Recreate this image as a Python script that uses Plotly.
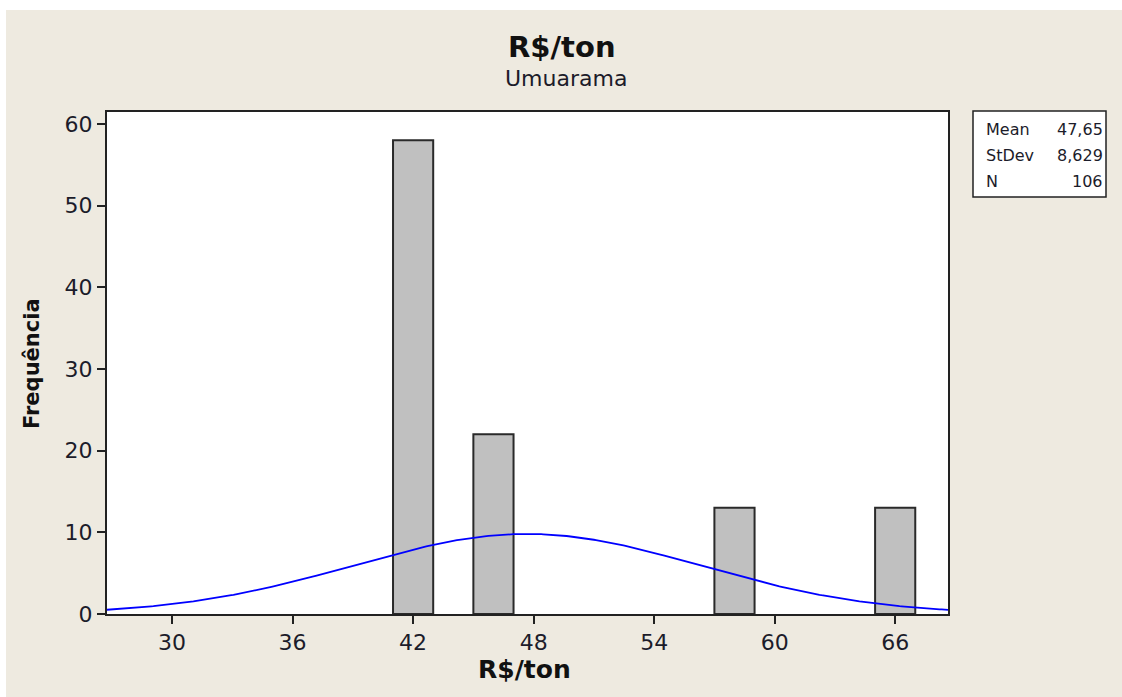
import numpy as np
import plotly.graph_objects as go

# Histogram of R$/ton prices, Umuarama
bin_centers = [42, 46, 58, 66]
counts = [58, 22, 13, 13]
bin_width = 2

mean_val = 47.65
stdev_val = 8.629
n_obs = 106

x_ticks = [30, 36, 42, 48, 54, 60, 66]
y_ticks = [0, 10, 20, 30, 40, 50, 60]
x_range = [26.76, 68.63]
y_range = [0, 61.45]

# Figure / plot-area geometry in pixels
W, H = 1122, 697
L, R, T, B = 107, 948, 112, 614
PW, PH = R - L, B - T


def px(x):
    return (x - L) / PW


def py(y):
    return (B - y) / PH


FONT = "DejaVu Sans"
TXT = "#1c1c2a"
BG = "#EEEAE0"

# Fitted normal curve, scaled to the histogram counts
xc = np.linspace(x_range[0], x_range[1], 400)
pdf = np.exp(-0.5 * ((xc - mean_val) / stdev_val) ** 2) / (stdev_val * np.sqrt(2 * np.pi))
yc = n_obs * bin_width * pdf

fig = go.Figure()
fig.add_trace(go.Bar(
    x=bin_centers, y=counts, width=bin_width,
    marker=dict(color="#C0C0C0", line=dict(color="#2a2a2a", width=2)),
    hoverinfo="x+y",
))
fig.add_trace(go.Scatter(
    x=xc, y=yc, mode="lines",
    line=dict(color="#0000FF", width=1.8),
    hoverinfo="skip",
))

axis_common = dict(
    showline=True, mirror=True, linecolor="#222222", linewidth=2,
    ticks="outside", ticklen=8, tickwidth=2, tickcolor="#222222",
    showgrid=False, zeroline=False,
    tickfont=dict(family=FONT, size=22, color=TXT),
)

fig.update_layout(
    width=W, height=H, autosize=False,
    margin=dict(l=L, r=W - R, t=T, b=H - B, pad=0),
    paper_bgcolor=BG, plot_bgcolor="white",
    showlegend=False,
    xaxis=dict(range=x_range, tickvals=x_ticks, **axis_common),
    yaxis=dict(range=y_range, tickvals=y_ticks, **axis_common),
)

shapes = [
    # white strips along the top and left edges
    dict(type="rect", xref="paper", yref="paper", layer="below",
         x0=px(0), x1=px(W), y0=py(10), y1=py(0),
         fillcolor="white", line=dict(width=0)),
    dict(type="rect", xref="paper", yref="paper", layer="below",
         x0=px(0), x1=px(6), y0=py(H), y1=py(0),
         fillcolor="white", line=dict(width=0)),
    # statistics box
    dict(type="rect", xref="paper", yref="paper",
         x0=px(973), x1=px(1106), y0=py(197), y1=py(111),
         fillcolor="white", line=dict(color="#222222", width=1.5)),
]
fig.update_layout(shapes=shapes)

ann = []
ann.append(dict(text="<b>R$/ton</b>", x=px(562), y=py(47), xref="paper", yref="paper",
                showarrow=False, xanchor="center", yanchor="middle",
                font=dict(family=FONT, size=29, color="#111111")))
ann.append(dict(text="Umuarama", x=px(566), y=py(78), xref="paper", yref="paper",
                showarrow=False, xanchor="center", yanchor="middle",
                font=dict(family=FONT, size=22, color=TXT)))
ann.append(dict(text="<b>R$/ton</b>", x=px(524), y=py(669), xref="paper", yref="paper",
                showarrow=False, xanchor="center", yanchor="middle",
                font=dict(family=FONT, size=25, color="#111111")))
ann.append(dict(text="<b>Frequência</b>", x=px(32), y=py(364), xref="paper", yref="paper",
                showarrow=False, xanchor="center", yanchor="middle", textangle=-90,
                font=dict(family=FONT, size=21, color="#111111")))

stats_labels = ["Mean", "StDev", "N"]
stats_values = ["47,65", "8,629", "106"]
for i, (lab, val) in enumerate(zip(stats_labels, stats_values)):
    yy = py(129 + 26 * i)
    ann.append(dict(text=lab, x=px(984), y=yy, xref="paper", yref="paper",
                    showarrow=False, xanchor="left", yanchor="middle",
                    font=dict(family=FONT, size=16, color=TXT)))
    ann.append(dict(text=val, x=px(1105), y=yy, xref="paper", yref="paper",
                    showarrow=False, xanchor="right", yanchor="middle",
                    font=dict(family=FONT, size=16, color=TXT)))
fig.update_layout(annotations=ann)

fig.write_html("out.html")
